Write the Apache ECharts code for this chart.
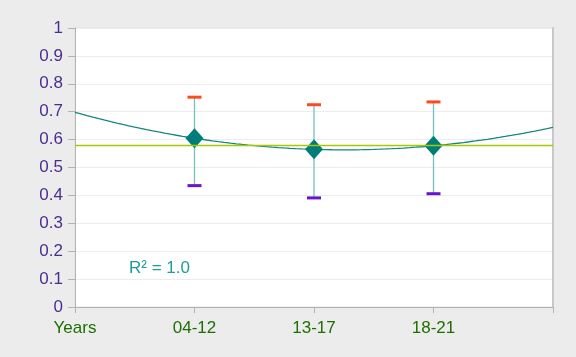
<!DOCTYPE html>
<html><head><meta charset="utf-8">
<script src="https://cdn.jsdelivr.net/npm/echarts@6/dist/echarts.min.js"></script>
<style>html,body{margin:0;padding:0;background:#ececec}#c{width:576px;height:357px}</style>
</head><body><div id="c"></div>
<script>
var categories = ['Years', '04-12', '13-17', '18-21', ''];
var pointX = [1, 2, 3];
var values = [0.605, 0.565, 0.578];
var highs = [0.752, 0.725, 0.735];
var lows = [0.435, 0.391, 0.406];
var yTicks = [0, 0.1, 0.2, 0.3, 0.4, 0.5, 0.6, 0.7, 0.8, 0.9, 1];
var r2Label = 'R² = 1.0';

// mean of the series
var mean = values.reduce(function(a,b){return a+b;},0) / values.length;

// quadratic polynomial regression (exact through 3 points)
function polyFit(xs, ys) {
  var n = xs.length, S = [0,0,0,0,0], T = [0,0,0];
  for (var i = 0; i < n; i++) {
    var p = 1;
    for (var k = 0; k < 5; k++) { S[k] += p; if (k < 3) T[k] += p * ys[i]; p *= xs[i]; }
  }
  var M = [[S[0],S[1],S[2],T[0]],[S[1],S[2],S[3],T[1]],[S[2],S[3],S[4],T[2]]];
  for (var c = 0; c < 3; c++) {
    for (var r = c + 1; r < 3; r++) {
      var f = M[r][c] / M[c][c];
      for (var j = c; j < 4; j++) M[r][j] -= f * M[c][j];
    }
  }
  var co = [0,0,0];
  for (var r2 = 2; r2 >= 0; r2--) {
    var s = M[r2][3];
    for (var j2 = r2 + 1; j2 < 3; j2++) s -= M[r2][j2] * co[j2];
    co[r2] = s / M[r2][r2];
  }
  return co;
}
var co = polyFit(pointX, values);
var trend = [];
for (var t = 0; t <= 80; t++) {
  var x = t * (categories.length - 1) / 80;
  trend.push([x, co[0] + co[1] * x + co[2] * x * x]);
}

var errData = pointX.map(function(x, i){ return [x, lows[i], highs[i]]; });
var pts = pointX.map(function(x, i){ return [x, values[i]]; });

var chart = echarts.init(document.getElementById('c'));
chart.setOption({
  backgroundColor: '#ececec',
  animation: false,
  grid: { left: 75, right: 23, top: 28, bottom: 50, show: true, backgroundColor: '#ffffff', borderColor: '#e2e2e2', borderWidth: 1 },
  xAxis: [{
    type: 'category', data: categories, boundaryGap: false,
    axisLine: { lineStyle: { color: '#b3b3b3', width: 1 } },
    axisTick: { show: true, length: 6, lineStyle: { color: '#b3b3b3' } },
    axisLabel: { color: '#1f6e00', fontFamily: 'Liberation Sans', fontSize: 17, margin: 13 },
    splitLine: { show: false }
  }, {
    type: 'value', min: 0, max: categories.length - 1, show: false
  }],
  yAxis: [{
    type: 'value', min: 0, max: 1, interval: 0.1,
    axisLine: { show: true, lineStyle: { color: '#b3b3b3' } },
    axisTick: { show: true, length: 7, lineStyle: { color: '#b3b3b3' } },
    axisLabel: { color: '#4b2d8f', fontFamily: 'Liberation Sans', fontSize: 17, margin: 12,
      formatter: function(v){ return String(Math.round(v*10)/10); } },
    splitLine: { lineStyle: { color: '#ededed' } }
  }, {
    type: 'value', min: 0, max: 1, position: 'right',
    axisLine: { show: true, lineStyle: { color: '#c8c8c8', width: 2 } },
    axisTick: { show: false }, axisLabel: { show: false }, splitLine: { show: false }
  }],
  graphic: [{
    type: 'text', left: 129, top: 260,
    style: { text: r2Label, fill: '#1f9c9c', font: '17px "Liberation Sans"' }
  }],
  series: [{
    type: 'line', xAxisIndex: 1, data: trend, showSymbol: false, smooth: false,
    lineStyle: { color: '#13877f', width: 1.3 }, z: 2,
    markLine: {
      silent: true, symbol: 'none', label: { show: false },
      lineStyle: { color: '#a8c800', type: 'solid', width: 1.3 },
      data: [{ yAxis: mean }]
    }
  }, {
    type: 'custom', data: errData, z: 3,
    renderItem: function(params, api) {
      var x = api.value(0);
      var lo = api.coord([x, api.value(1)]);
      var hi = api.coord([x, api.value(2)]);
      var hw = 7;
      return { type: 'group', children: [
        { type: 'line', shape: { x1: lo[0], y1: lo[1], x2: hi[0], y2: hi[1] }, style: { stroke: '#74c2bc', lineWidth: 1.3 } },
        { type: 'line', shape: { x1: hi[0]-hw, y1: hi[1], x2: hi[0]+hw, y2: hi[1] }, style: { stroke: '#ff4a1c', lineWidth: 3 } },
        { type: 'line', shape: { x1: lo[0]-hw, y1: lo[1], x2: lo[0]+hw, y2: lo[1] }, style: { stroke: '#6a12d0', lineWidth: 3 } }
      ]};
    }
  }, {
    type: 'scatter', data: pts, symbol: 'diamond', symbolSize: [18, 20], z: 4,
    itemStyle: { color: '#007d78', opacity: 1 }
  }]
});
</script></body></html>
